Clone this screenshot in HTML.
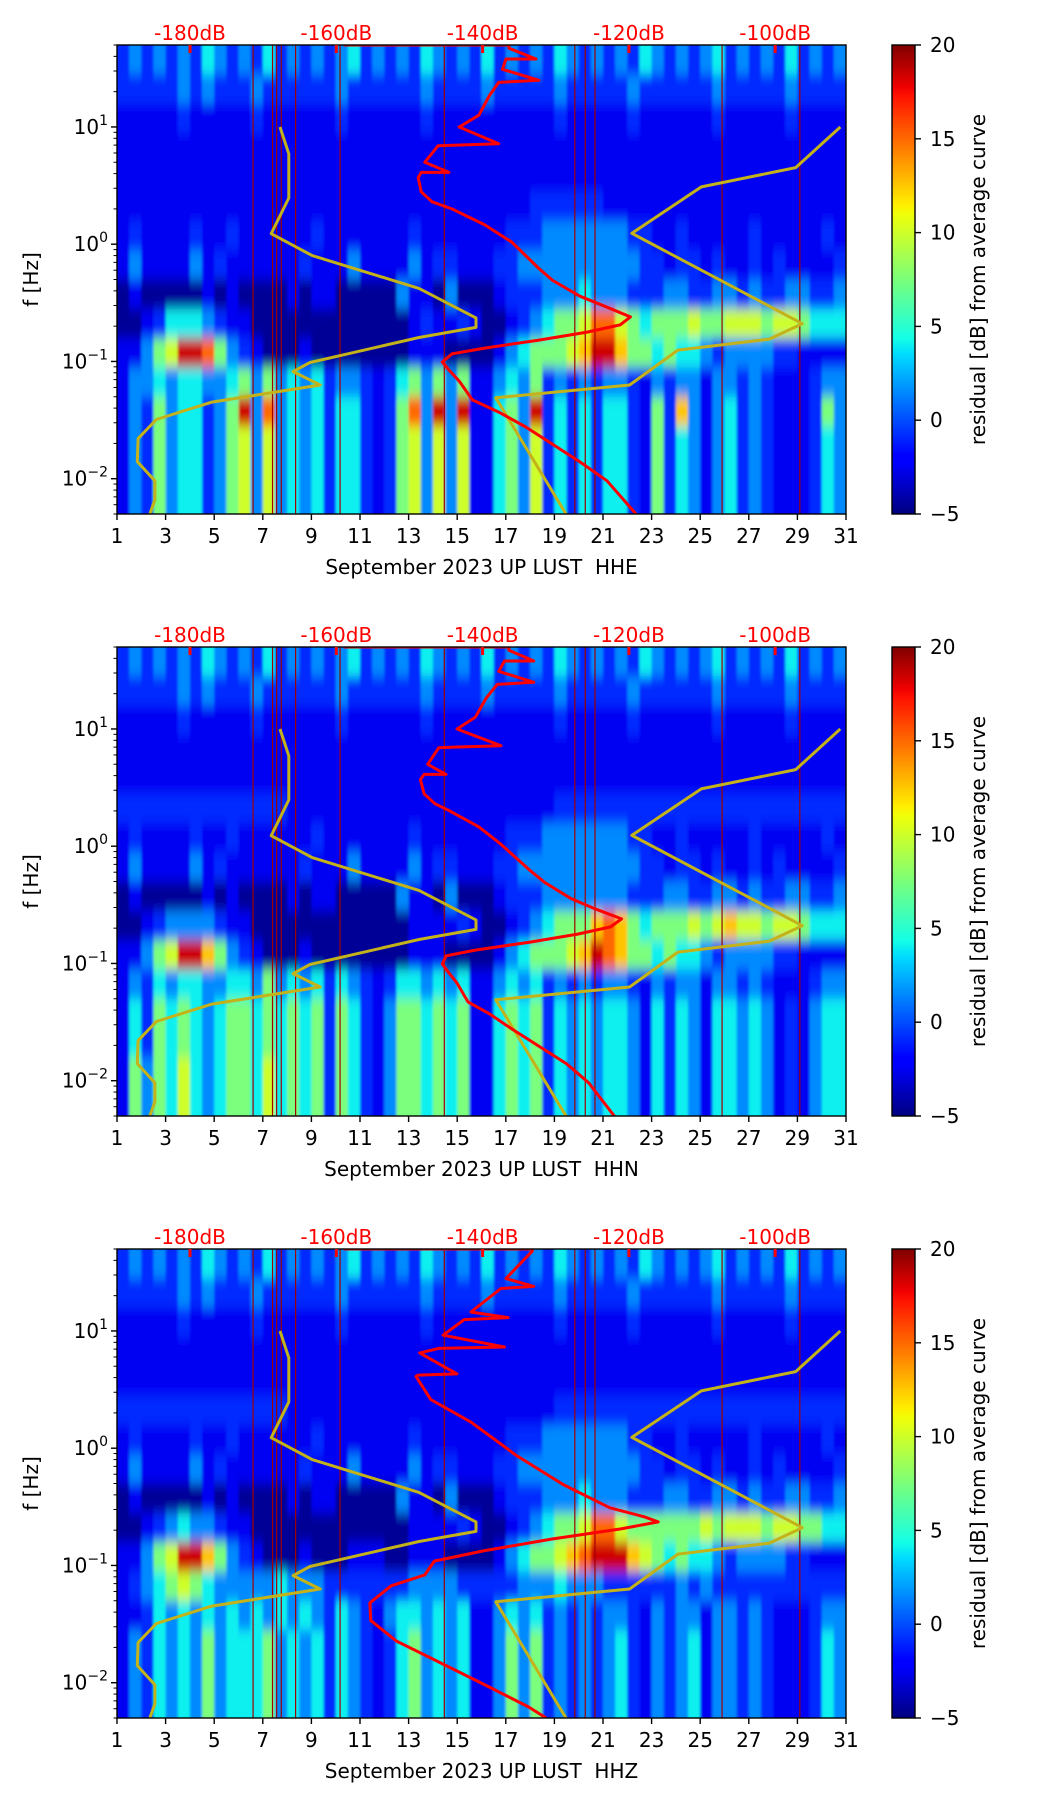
<!DOCTYPE html>
<html><head><meta charset="utf-8"><title>Spectrogram residuals</title>
<style>
html,body{margin:0;padding:0;background:#fff;}
svg{display:block;font-family:"DejaVu Sans","Liberation Sans",sans-serif;}
text{white-space:pre;}
</style></head>
<body>
<svg id="fig" width="1052" height="1806" viewBox="0 0 1052 1806" xmlns="http://www.w3.org/2000/svg">
<defs>
<linearGradient id="jetgrad" x1="0" y1="1" x2="0" y2="0">
<stop offset="0" stop-color="#000080"/><stop offset="0.11" stop-color="#0000ff"/><stop offset="0.125" stop-color="#0000ff"/>
<stop offset="0.34" stop-color="#00dbff"/><stop offset="0.375" stop-color="#14ffe6"/><stop offset="0.5" stop-color="#7aff7a"/>
<stop offset="0.64" stop-color="#f0ff08"/><stop offset="0.66" stop-color="#ffee00"/><stop offset="0.89" stop-color="#ff1300"/>
<stop offset="0.91" stop-color="#f00000"/><stop offset="1" stop-color="#800000"/>
</linearGradient>
<filter id="soft" x="-5%" y="-5%" width="110%" height="110%"><feGaussianBlur stdDeviation="1.2 6"/></filter>
</defs>
</svg>
<script>
// ---- shared data ----
const dayTicks = [1,3,5,7,9,11,13,15,17,19,21,23,25,27,29,31];
const dbTicks = [-180,-160,-140,-120,-100];
const dbTickLabels = ["-180dB","-160dB","-140dB","-120dB","-100dB"];
const freqMajor = [0.01,0.1,1,10];
const freqMajorExp = ["\u22122","\u22121","0","1"];
const cbarTicks = [-5,0,5,10,15,20];
const eventDays = [6.6,7.4,7.57,7.76,8.35,10.18,14.47,19.84,20.27,20.67,25.9,29.1];
const lowModelDb = [-167.7,-166.5,-166.5,-168.9,-163.3,-148.7,-140.9,-140.9,-148.7,-163.6,-165.9,-162.2,-177.0,-184.6,-187.1,-187.2,-184.8,-184.8,-185.5];
const lowModelF = [10,5.9,2.48,1.23,0.80,0.42,0.235,0.195,0.16,0.098,0.082,0.063,0.045,0.032,0.022,0.014,0.0096,0.0066,0.005];
const highModelDb = [-128.6,-138.2,-119.9,-113.3,-100.8,-96.3,-119.6,-110.1,-97.2,-91.1];
const highModelF = [0.005,0.049,0.063,0.125,0.155,0.21,1.24,3.08,4.5,10];
// residual level (dB) represented by each heat digit 0..9
const digitDb = [-4.5,-2.5,-0.8,1.5,4,7.5,10,12.5,15,18.3];

// ---- panel 1 (HHE) ----
const heatHHE = [
"232323243232423232342323243232423232432323243232342323242323",
"222223232223222222322222232222322222322222322222232222232222",
"111112111112111111211111121111111111211111211111121111121111",
"111111111111111111111111111111111111111111111111111111111111",
"111111111111111111111111111111111111111111111111111111111111",
"111111111111111111111111111111111122222211111111111111111111",
"121111211211111121111111211111112223333333221121111121111121",
"131111312111111211131111312211122333333333322122121121211112",
"010000010100001011000003110300012223334333222332233232233223",
"001244432110000000000000121121001234556886545556556665665444",
"113569985321000100000000111000013455567997554544323333221111",
"133434433453534342332124535351134352323233213233133232111233",
"132534423593834342442125839391145392424244215273134232111253",
"132534423563634342442125636361145362424244215243134232111243",
"132534423563634342442125636361145362424244215243134232111243",
"132534423563634342442125636361145362424244215243134232111243"];
const avgHHEDb = [-159,-136.4,-136.4,-132.7,-136.8,-137.3,-132.3,-137.8,-139.1,-140.5,-143.2,-137.8,-143.5,-146.1,-147.9,-144.6,-148.4,-148.8,-148.4,-146.9,-144.2,-139.7,-136.0,-132.3,-130.4,-126.7,-123.0,-119.8,-121.2,-125.7,-132.3,-139.7,-144.2,-145.5,-144.7,-143.2,-141.4,-137.8,-134.1,-126.7,-123.0,-118.9];
const avgHHEF = [50,50,47,38,38,31,25,24,18.4,12.6,10,7.2,7.0,6.9,5.0,4.1,4.1,3.7,2.8,2.3,2.0,1.46,1.04,0.62,0.49,0.36,0.29,0.24,0.205,0.178,0.152,0.130,0.116,0.099,0.086,0.068,0.047,0.037,0.0276,0.0139,0.0096,0.0049];

// ---- panel 2 (HHN) ----
const heatHHN = [
"232323243232423232342323243232423232432323243232342323242323",
"222223232223222222322222232222322222322222322222232222232222",
"111112111112111111211111121111111111211111211111121111121111",
"111111111111111111111111111111111111111111111111111111111111",
"111111111111111111111111111111111111111111111111111111111111",
"222222222222221111111111111111111111222222222222222222222222",
"121111211211111121111111211111112223333333221121111121111121",
"131111312111111211131111312211122333333333322122121121211112",
"010000010100001011000003110300012223333333222332233232233223",
"001233332110000000000000111121001234555787545556567665665444",
"113569975321000100000000111000013455567987554544323333221111",
"132434433443534342432124434341134342323233213233133232111233",
"142545434554545452542135545451145452434344314243144343121344",
"142545434554545452542135545451145452434344314243144343121344",
"153546434554645452542135545451145452434344314243144343121344",
"153546434554645452542135545451145452434344314243144343121344"];
const avgHHNDb = [-159,-136.4,-136.4,-133,-137,-137.8,-133,-138,-139.5,-141,-143.5,-137.5,-144,-146,-147.5,-145,-148,-148.5,-148,-146.5,-144.5,-140.5,-137.5,-133.5,-131.5,-128,-124.5,-121,-122.5,-127,-133.5,-141,-145,-145.5,-144.8,-143.5,-142,-139,-136,-128.5,-125.5,-121.9];
const avgHHNF = [50,50,47,38,38,31,25,24,18.4,12.6,10,7.2,7.0,6.9,5.0,4.1,4.1,3.7,2.8,2.3,2.0,1.46,1.04,0.62,0.49,0.36,0.29,0.24,0.205,0.178,0.152,0.130,0.116,0.099,0.086,0.068,0.047,0.037,0.0276,0.0139,0.0096,0.0049];

// ---- panel 3 (HHZ) ----
const heatHHZ = [
"232323243232423232342323243232423232432323243232342323242323",
"222223232223222222322222232222322222322222322222232222232222",
"111112111112111111211111121111111111211111211111121111121111",
"111111111111111111111111111111111111111111111111111111111111",
"111111111111111111111111111111111111111111111111111111111111",
"222222222222221111111111111111111111222222222222222222222222",
"121111211211111121111111211111112223333333221121111121111121",
"131111312111111211131111312211122333333333322122121121211112",
"010000010100001011000003110300012223334333222332233232233223",
"001234332110000000000000111121001234556886555555656665665544",
"113569975321000100011100111000013455678999765454432333322111",
"123456543333343332222222333322222333433322222232322222222222",
"112434343434343432432134434341134342323233213233133232111233",
"132434353444534342432124534341135352323234213234133232111243",
"132434353444534342432124534341135352323234213234133232111243",
"132434353444534342432124534341135352323234213234133232111243"];
const avgHHZDb = [-159,-133.2,-133.2,-136.8,-133,-137.5,-141.6,-136.5,-142.5,-145.4,-137,-146,-148.6,-143.5,-148.8,-149.1,-147.1,-141.6,-135.3,-129.0,-122.6,-117.9,-116.0,-121.1,-130.5,-139.9,-146.6,-147.9,-152.5,-155.4,-155.3,-151.8,-145.4,-139.1,-133.7,-131.3];
const avgHHZF = [50,50,48,28,24,23,14.5,13,12.5,9.2,7.3,7.1,6.5,4.3,4.2,4.1,2.6,1.67,0.86,0.49,0.31,0.26,0.235,0.205,0.168,0.133,0.109,0.083,0.067,0.048,0.034,0.0227,0.0144,0.0092,0.0062,0.005];

const panels = [
 {id:"hhe", title:"September 2023 UP LUST  HHE", heat:heatHHE, db:avgHHEDb, f:avgHHEF},
 {id:"hhn", title:"September 2023 UP LUST  HHN", heat:heatHHN, db:avgHHNDb, f:avgHHNF},
 {id:"hhz", title:"September 2023 UP LUST  HHZ", heat:heatHHZ, db:avgHHZDb, f:avgHHZF}
];

// ---- layout ----
const NS = "http://www.w3.org/2000/svg";
const svg = document.getElementById("fig");
const L = 117, R = 846, H = 469, CB0 = 892, CB1 = 915;
const FMIN = 0.005, FMAX = 50;
const FS = 20;

function el(tag, attrs, parent){ const e=document.createElementNS(NS,tag); for(const k in attrs) e.setAttribute(k,attrs[k]); (parent||svg).appendChild(e); return e; }
function jet(t){
  t=Math.max(0,Math.min(1,t));
  const r = t<0.35?0:(t<0.66?(t-0.35)/0.31:(t<0.89?1:1-0.5*(t-0.89)/0.11));
  const g = t<0.125?0:(t<0.375?(t-0.125)/0.25:(t<0.64?1:(t<0.91?1-(t-0.64)/0.27:0)));
  const b = t<0.11?0.5+0.5*t/0.11:(t<0.34?1:(t<0.65?1-(t-0.34)/0.31:0));
  return "rgb("+Math.round(r*255)+","+Math.round(g*255)+","+Math.round(b*255)+")";
}
const colorOf = db => jet((db+5)/25);

panels.forEach((p, pi) => {
  const top = 45 + 602*pi, bot = top + H;
  const xDay = d => L + (d-1)*(R-L)/30;
  const xDb = db => 190 + (db+180)*7.315;
  const yF = f => top + (Math.log10(FMAX) - Math.log10(f)) / (Math.log10(FMAX)-Math.log10(FMIN)) * H;

  const g = el("g",{});
  
  
  const cp = el("clipPath",{id:"clip"+pi}, g);
  el("rect",{x:L,y:top,width:R-L,height:H}, cp);

  // heatmap
  const hm = el("g",{"clip-path":"url(#clip"+pi+")"}, g);
  
  
  const cells = el("g",{filter:"url(#soft)"}, hm);
  const nRows = p.heat.length, nCols = p.heat[0].length;
  const decPerRow = (Math.log10(FMAX)-Math.log10(FMIN))/nRows;
  for(let r=0;r<nRows;r++){
    const fTop = FMAX*Math.pow(10,-r*decPerRow), fBot = FMAX*Math.pow(10,-(r+1)*decPerRow);
    let y0 = yF(fTop), y1 = yF(fBot);
    if(r===0) y0 -= 20;
    if(r===nRows-1) y1 += 20;
    for(let c=0;c<nCols;c++){
      const d = +p.heat[r][c];
      let x0 = xDay(1+c*30/nCols), x1 = xDay(1+(c+1)*30/nCols);
      if(c===0) x0 -= 20;
      if(c===nCols-1) x1 += 20;
      const cell = el("rect",{x:x0.toFixed(2),y:y0.toFixed(2),width:(x1-x0+0.4).toFixed(2),height:(y1-y0+0.4).toFixed(2),fill:colorOf(digitDb[d])}, cells);
      
      
    }
  }
  // event lines
  eventDays.forEach(d => {
    const ln = el("line",{x1:xDay(d),x2:xDay(d),y1:top,y2:bot,stroke:"#a00000","stroke-width":1.2}, hm);
    
    
  });
  // model curves
  const mk = (dbs, fs, color, w, name) => {
    const pts = dbs.map((v,i)=> xDb(v).toFixed(1)+","+yF(fs[i]).toFixed(1)).join(" ");
    const pl = el("polyline",{points:pts,fill:"none",stroke:color,"stroke-width":w,"stroke-linejoin":"round"}, hm);
    
    
  };
  mk(lowModelDb, lowModelF, "#c4b21a", 3, "low-noise-model-line");
  mk(highModelDb, highModelF, "#c4b21a", 3, "high-noise-model-line");
  mk(p.db, p.f, "#ff0000", 3, "average-psd-line");

  // frame
  const fr = el("rect",{x:L,y:top,width:R-L,height:H,fill:"none",stroke:"#000","stroke-width":1.4}, g);
  
  

  // x ticks
  dayTicks.forEach(d => {
    const x = xDay(d);
    el("line",{x1:x,x2:x,y1:bot,y2:bot+6,stroke:"#000","stroke-width":1.4}, g);
    const t = el("text",{x:x,y:bot+29,"text-anchor":"middle","font-size":FS,fill:"#000"}, g);
    t.textContent = d;
    
    
  });
  const xl = el("text",{x:(L+R)/2,y:bot+60,"text-anchor":"middle","font-size":FS,fill:"#000"}, g);
  xl.textContent = p.title;
  
  

  // top dB ticks
  dbTicks.forEach((db,i) => {
    const x = xDb(db);
    el("line",{x1:x,x2:x,y1:top,y2:top+8,stroke:"#ff0000","stroke-width":3}, g);
    const t = el("text",{x:x,y:top-5,"text-anchor":"middle","font-size":FS,fill:"#ff0000"}, g);
    t.textContent = dbTickLabels[i];
    
    
  });

  // y ticks (log)
  for(let e=-3;e<=1;e++){
    for(let m=1;m<=9;m++){
      const f = m*Math.pow(10,e);
      if(f<FMIN-1e-9 || f>FMAX+1e-9) continue;
      const y = yF(f);
      el("line",{x1:L-(m===1?6:3.5),x2:L,y1:y,y2:y,stroke:"#000","stroke-width":m===1?1.4:1}, g);
    }
  }
  freqMajor.forEach((f,i) => {
    const y = yF(f);
    const t = el("text",{x:L-9,y:y+7,"text-anchor":"end","font-size":FS,fill:"#000"}, g);
    
    
    const a = document.createElementNS(NS,"tspan"); a.textContent="10"; t.appendChild(a);
    const b = document.createElementNS(NS,"tspan"); b.setAttribute("dy","-9"); b.setAttribute("font-size","14"); b.textContent=freqMajorExp[i]; t.appendChild(b);
  });
  const yl = el("text",{x:0,y:0,"text-anchor":"middle","font-size":FS,fill:"#000",transform:"translate(38,"+(top+H/2)+") rotate(-90)"}, g);
  yl.textContent = "f [Hz]";
  
  

  // colorbar
  const cb = el("rect",{x:CB0,y:top,width:CB1-CB0,height:H,fill:"url(#jetgrad)",stroke:"#000","stroke-width":1.4}, g);
  
  
  cbarTicks.forEach(v => {
    const y = bot - (v+5)/25*H;
    el("line",{x1:CB1,x2:CB1+6,y1:y,y2:y,stroke:"#000","stroke-width":1.4}, g);
    const t = el("text",{x:CB1+15,y:y+7,"font-size":FS,fill:"#000"}, g);
    t.textContent = v<0 ? "\u2212"+Math.abs(v) : v;
    
    
  });
  const cl = el("text",{x:0,y:0,"text-anchor":"middle","font-size":FS,fill:"#000",transform:"translate(985,"+(top+H/2)+") rotate(-90)"}, g);
  cl.textContent = "residual [dB] from average curve";
  
  
});
</script>
</body></html>
